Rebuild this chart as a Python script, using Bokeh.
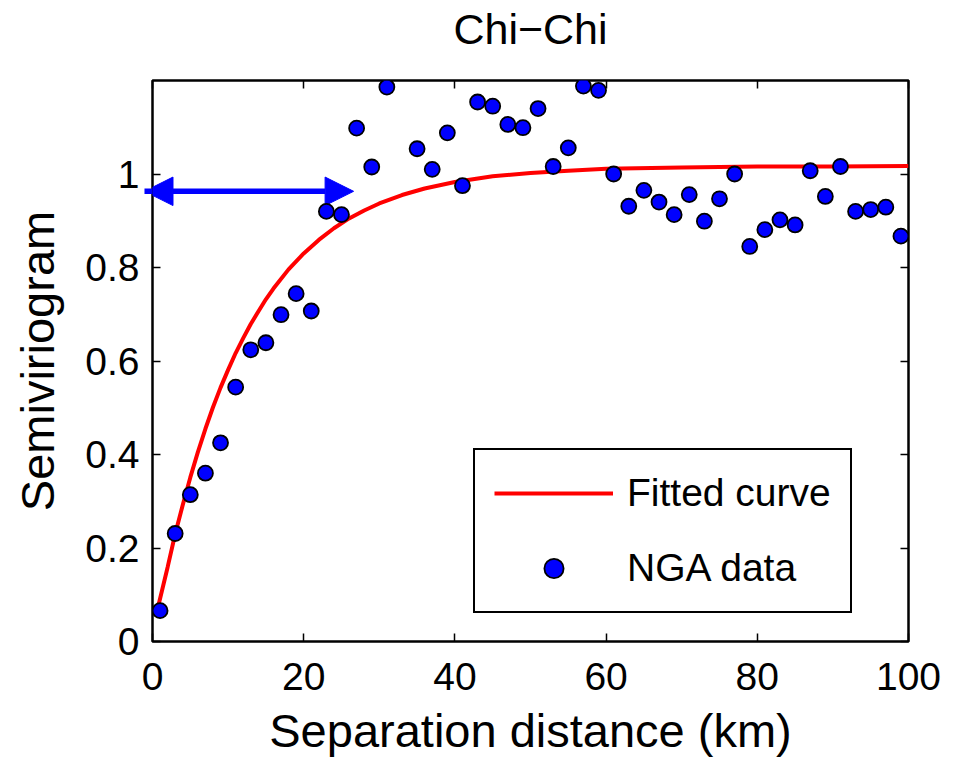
from bokeh.plotting import figure
from bokeh.models import (Range1d, FixedTicker, LinearAxis, Legend, LegendItem, Title,
                          Arrow, NormalHead, NumeralTickFormatter, ColumnDataSource)
from bokeh.embed import file_html
from bokeh.resources import INLINE

# ---- data ----
title_text = "Chi\u2212Chi"
x_label = "Separation distance (km)"
y_label = "Semiviriogram"

dist_km = [1, 3, 5, 7, 9, 11, 13, 15, 17, 19, 21, 23, 25, 27, 29, 31,
           35, 37, 39, 41, 43, 45, 47, 49, 51, 53, 55, 57, 59, 61, 63, 65,
           67, 69, 71, 73, 75, 77, 79, 81, 83, 85, 87, 89, 91, 93, 95, 97, 99]
nga_semivar = [0.066, 0.231, 0.314, 0.360, 0.425, 0.544, 0.624, 0.639, 0.699, 0.744,
               0.707, 0.920, 0.913, 1.098, 1.015, 1.186, 1.054, 1.010, 1.088, 0.975,
               1.154, 1.145, 1.106, 1.099, 1.140, 1.016, 1.056, 1.188, 1.179, 1.000,
               0.931, 0.965, 0.940, 0.913, 0.956, 0.899, 0.947, 1.000, 0.845, 0.881,
               0.902, 0.891, 1.007, 0.952, 1.016, 0.920, 0.924, 0.929, 0.867]

curve_x = [0.75, 2, 3, 4, 5, 6, 7, 8, 9, 10, 11, 12, 13, 14, 15, 16, 18, 20, 22,
           24, 26, 28, 30, 33, 36, 40, 45, 50, 55, 60, 70, 80, 90, 100]
curve_y = [0.075, 0.159, 0.230, 0.292, 0.351, 0.405, 0.455, 0.501, 0.543, 0.581,
           0.617, 0.649, 0.679, 0.706, 0.732, 0.755, 0.796, 0.830, 0.859, 0.884,
           0.905, 0.922, 0.937, 0.955, 0.969, 0.983, 0.995, 1.002, 1.007, 1.011,
           1.014, 1.016, 1.016, 1.017]

x_ticks = [0, 20, 40, 60, 80, 100]
y_ticks = [0, 0.2, 0.4, 0.6, 0.8, 1.0]

arrow_x_start = -1.06
arrow_x_end = 26.6
arrow_y = 0.963

FONT = "Liberation Sans"

p = figure(width=957, height=759, x_range=Range1d(0, 100), y_range=Range1d(0, 1.2),
           output_backend="svg", toolbar_location=None,
           min_border_left=152, min_border_right=49, min_border_top=80, min_border_bottom=118,
           background_fill_color="white", border_fill_color="white")

p.title = Title(text=title_text, align="center", vertical_align="bottom",
                text_font=FONT, text_font_size="43px",
                text_font_style="normal", text_color="black", standoff=0)

p.grid.visible = False
p.outline_line_color = "black"
p.outline_line_width = 2.5
p.outline_line_alpha = 1

# bottom axis
xa = p.xaxis[0]
xa.ticker = FixedTicker(ticks=x_ticks)
xa.axis_label = x_label
# left axis
ya = p.yaxis[0]
ya.ticker = FixedTicker(ticks=y_ticks)
ya.formatter = NumeralTickFormatter(format="0.[0]")
ya.axis_label = y_label

for ax in (xa, ya):
    ax.axis_line_color = None
    ax.major_tick_in = 8
    ax.major_tick_out = 0
    ax.minor_tick_line_color = None
    ax.major_tick_line_color = "black"
    ax.major_tick_line_width = 1.5
    ax.major_label_text_font = FONT
    ax.major_label_text_font_size = "39px"
    ax.major_label_text_color = "black"
    ax.axis_label_text_font = FONT
    ax.axis_label_text_font_size = "47px"
    ax.axis_label_text_font_style = "normal"
    ax.axis_label_text_color = "black"

xa.major_label_standoff = 21
xa.axis_label_standoff = 11
ya.major_label_standoff = 13
ya.axis_label_standoff = 18

# mirrored ticks on top and right (no labels drawn)
top_ax = LinearAxis(ticker=FixedTicker(ticks=x_ticks), major_label_text_font_size="1px",
                    major_label_text_color=None,
                    major_label_standoff=0, axis_line_color=None, major_tick_in=8,
                    major_tick_out=0, minor_tick_line_color=None,
                    major_tick_line_color="black", major_tick_line_width=1.5)
# invisible spacer between the frame and the title
top_spacer = LinearAxis(ticker=FixedTicker(ticks=x_ticks), major_label_text_font_size="1px",
                        major_label_text_color=None,
                        major_label_standoff=0, axis_line_color=None, major_tick_in=0,
                        major_tick_out=28, minor_tick_line_color=None,
                        major_tick_line_color=None)
right_ax = LinearAxis(ticker=FixedTicker(ticks=y_ticks), major_label_text_font_size="1px",
                      major_label_text_color=None,
                      major_label_standoff=0, axis_line_color=None, major_tick_in=8,
                      major_tick_out=0, minor_tick_line_color=None,
                      major_tick_line_color="black", major_tick_line_width=1.5)
p.add_layout(top_ax, "above")
p.add_layout(top_spacer, "above")
p.add_layout(right_ax, "right")

# range arrow (beneath the data)
arrow = Arrow(start=NormalHead(size=28.5, fill_color="#0000ff", line_color="#0000ff", line_width=1),
              end=NormalHead(size=28.5, fill_color="#0000ff", line_color="#0000ff", line_width=1),
              x_start=arrow_x_start, y_start=arrow_y, x_end=arrow_x_end, y_end=arrow_y,
              line_color="#0000ff", line_width=5.5, level="underlay")
p.add_layout(arrow)

curve_src = ColumnDataSource(dict(x=curve_x, y=curve_y))
data_src = ColumnDataSource(dict(x=dist_km, y=nga_semivar))

r_line = p.line("x", "y", source=curve_src, line_color="#ff0000", line_width=4)
r_pts = p.scatter("x", "y", source=data_src, size=15, fill_color="#0000ff",
                  line_color="black", line_width=1.8)

legend = Legend(items=[LegendItem(label="Fitted curve", renderers=[r_line]),
                       LegendItem(label="NGA data", renderers=[r_pts])],
                location=(321, 28), orientation="vertical",
                label_text_font=FONT, label_text_font_size="39px", label_text_color="black",
                glyph_width=119, glyph_height=48, label_height=48, label_width=199,
                label_standoff=14, padding=19, spacing=27, margin=0,
                border_line_color="black", border_line_width=2, border_line_alpha=1,
                background_fill_color="white", background_fill_alpha=1)
p.add_layout(legend)

open("out.html", "w").write(file_html(p, INLINE))
